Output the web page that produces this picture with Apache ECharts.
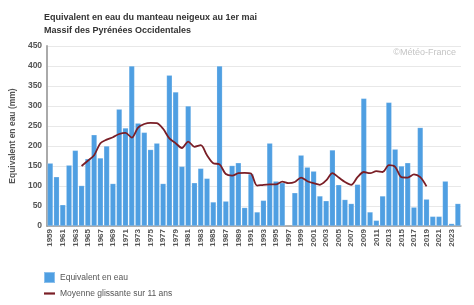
<!DOCTYPE html>
<html>
<head>
<meta charset="utf-8">
<script src="https://cdn.jsdelivr.net/npm/echarts@6/dist/echarts.min.js"></script>
<style>html,body{margin:0;padding:0;background:#fff}#c{width:474px;height:305px}</style>
</head>
<body>
<div id="c"></div>
<script>
const years = [];
for (let y = 1959; y <= 2024; y++) years.push(String(y));

const swe = [
  157, 123, 53, 152, 189, 101, 168, 228, 170, 200,
  106, 292, 245, 400, 257, 234, 191, 207, 106, 377,
  335, 149, 300, 108, 144, 119, 60, 400, 62, 151,
  158, 46, 130, 35, 64, 207, 112, 108, null, 83,
  177, 147, 137, 75, 63, 190, 103, 66, 56, 104,
  319, 35, 14, 75, 309, 192, 150, 158, 47, 246,
  67, 24, 24, 112, 6, 56
];

const movingAvg = [
  null, null, null, null, null, 150, 163, 177, 207, 216,
  222, 230, 233, 221, 246, 255, 258, 257, 243, 219,
  207, 195, 211, 198, 202, 177, 157, 154, 130, 126,
  132, 133, 131, 101, 103, 104, 104, 111, 107, 110,
  121, 112, 107, 103, 114, 132, 121, 110, 103, 122,
  135, 132, 137, 135, 152, 148, 122, 121, 129, 122,
  99, null, null, null, null, null
];

const yTicks = { min: 0, max: 450, interval: 50 };

const font = 'Liberation Sans, Arial, sans-serif';
const chart = echarts.init(document.getElementById('c'), null, { renderer: 'canvas' });
chart.setOption({
  animation: false,
  backgroundColor: '#fff',
  title: [
    { text: 'Equivalent en eau du manteau neigeux au 1er mai', left: 39, top: 8,
      textStyle: { fontFamily: font, fontSize: 9, fontWeight: 'bold', color: '#333' } },
    { text: 'Massif des Pyrénées Occidentales', left: 39, top: 21,
      textStyle: { fontFamily: font, fontSize: 9, fontWeight: 'bold', color: '#333' } }
  ],
  graphic: [
    { type: 'text', right: 18, top: 48,
      style: { text: '©Météo-France', fill: '#c4c4c4', font: '9px ' + font } }
  ],
  grid: { left: 38, right: 13, top: 46, bottom: 79, containLabel: false },
  legend: {
    orient: 'vertical', left: 38, top: 266, itemWidth: 11, itemHeight: 11, itemGap: 5,
    textStyle: { fontFamily: font, fontSize: 8.5, color: '#555' },
    data: [
      { name: 'Equivalent en eau', icon: 'rect' },
      { name: 'Moyenne glissante sur 11 ans', icon: 'path://M0,0 H20 V4 H0 Z' }
    ]
  },
  xAxis: {
    type: 'category', data: years, boundaryGap: true,
    axisLine: { lineStyle: { color: '#999', width: 1.5 } },
    axisTick: { show: false },
    axisLabel: { interval: 1, rotate: 90, fontFamily: font, fontSize: 8, fontWeight: 'bold', color: '#555', margin: 3 }
  },
  yAxis: {
    type: 'value', min: yTicks.min, max: yTicks.max, interval: yTicks.interval,
    name: 'Equivalent en eau (mm)', nameLocation: 'middle', nameGap: 25, nameRotate: 90,
    nameTextStyle: { fontFamily: font, fontSize: 8.5, fontWeight: 'bold', color: '#555' },
    axisLine: { show: true, lineStyle: { color: '#aaa', width: 2 } },
    axisTick: { show: false },
    axisLabel: { fontFamily: font, fontSize: 8.5, fontWeight: 'bold', color: '#555', margin: 5 },
    splitLine: { lineStyle: { color: '#e8e8e8', width: 1 } }
  },
  series: [
    { name: 'Equivalent en eau', type: 'bar', data: swe, barCategoryGap: '10%',
      itemStyle: { color: '#4f9fe2', borderColor: 'rgba(255,255,255,0.35)', borderWidth: 0.5 } },
    { name: 'Moyenne glissante sur 11 ans', type: 'line', data: movingAvg, smooth: 0.3,
      symbol: 'none', connectNulls: false,
      lineStyle: { color: '#7a1e26', width: 1.8 }, itemStyle: { color: '#7a1e26' } }
  ]
});
</script>
</body>
</html>
